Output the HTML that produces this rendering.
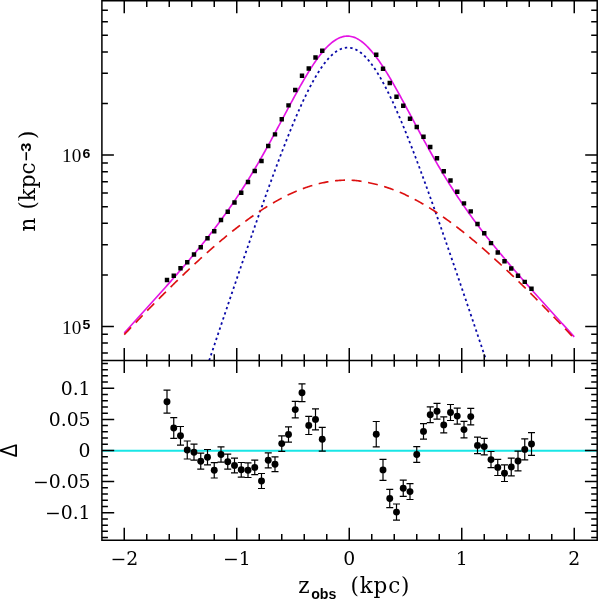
<!DOCTYPE html>
<html lang="en"><head><meta charset="utf-8"><title>n vs z_obs</title>
<style>html,body{margin:0;padding:0;background:#fff}body{width:600px;height:600px;overflow:hidden}svg{display:block}.ser{font-family:"DejaVu Serif","Liberation Serif",serif;fill:#000}.lser{font-family:"Liberation Serif","DejaVu Serif",serif;fill:#000}.dl{font-family:"Liberation Sans","DejaVu Sans",sans-serif;fill:#000}.san{font-family:"Liberation Sans","DejaVu Sans",sans-serif;font-weight:bold;fill:#000}</style></head><body>
<svg width="600" height="600" viewBox="0 0 600 600">
<rect width="600" height="600" fill="#fff"/>
<line x1="101.9" y1="450.7" x2="597.2" y2="450.7" stroke="#19e6e6" stroke-width="1.9"/>
<path d="M124.25,332.93 L125.38,331.69 L126.51,330.45 L127.63,329.21 L128.76,327.97 L129.89,326.73 L131.02,325.48 L132.14,324.24 L133.27,323.00 L134.40,321.76 L135.53,320.51 L136.66,319.27 L137.78,318.03 L138.91,316.78 L140.04,315.54 L141.17,314.29 L142.30,313.05 L143.42,311.80 L144.55,310.55 L145.68,309.31 L146.81,308.06 L147.93,306.81 L149.06,305.56 L150.19,304.31 L151.32,303.06 L152.45,301.80 L153.57,300.55 L154.70,299.30 L155.83,298.04 L156.96,296.78 L158.08,295.52 L159.21,294.27 L160.34,293.00 L161.47,291.74 L162.60,290.48 L163.72,289.21 L164.85,287.94 L165.98,286.68 L167.11,285.40 L168.23,284.13 L169.36,282.86 L170.49,281.58 L171.62,280.30 L172.75,279.02 L173.87,277.73 L175.00,276.45 L176.13,275.16 L177.26,273.87 L178.39,272.57 L179.51,271.27 L180.64,269.97 L181.77,268.67 L182.90,267.36 L184.02,266.05 L185.15,264.73 L186.28,263.41 L187.41,262.09 L188.54,260.76 L189.66,259.43 L190.79,258.09 L191.92,256.75 L193.05,255.41 L194.17,254.06 L195.30,252.70 L196.43,251.34 L197.56,249.98 L198.69,248.61 L199.81,247.23 L200.94,245.85 L202.07,244.46 L203.20,243.06 L204.33,241.66 L205.45,240.25 L206.58,238.83 L207.71,237.41 L208.84,235.98 L209.96,234.54 L211.09,233.09 L212.22,231.64 L213.35,230.18 L214.48,228.70 L215.60,227.23 L216.73,225.74 L217.86,224.24 L218.99,222.73 L220.11,221.21 L221.24,219.69 L222.37,218.15 L223.50,216.60 L224.63,215.05 L225.75,213.48 L226.88,211.90 L228.01,210.31 L229.14,208.71 L230.27,207.09 L231.39,205.47 L232.52,203.83 L233.65,202.18 L234.78,200.52 L235.90,198.85 L237.03,197.16 L238.16,195.46 L239.29,193.75 L240.42,192.03 L241.54,190.29 L242.67,188.54 L243.80,186.77 L244.93,185.00 L246.05,183.20 L247.18,181.40 L248.31,179.58 L249.44,177.75 L250.57,175.90 L251.69,174.05 L252.82,172.17 L253.95,170.29 L255.08,168.39 L256.20,166.48 L257.33,164.55 L258.46,162.61 L259.59,160.66 L260.72,158.70 L261.84,156.73 L262.97,154.74 L264.10,152.74 L265.23,150.73 L266.36,148.71 L267.48,146.68 L268.61,144.64 L269.74,142.59 L270.87,140.53 L271.99,138.46 L273.12,136.38 L274.25,134.30 L275.38,132.21 L276.51,130.11 L277.63,128.01 L278.76,125.90 L279.89,123.79 L281.02,121.68 L282.14,119.56 L283.27,117.45 L284.40,115.33 L285.53,113.21 L286.66,111.09 L287.78,108.98 L288.91,106.87 L290.04,104.76 L291.17,102.67 L292.30,100.57 L293.42,98.49 L294.55,96.41 L295.68,94.35 L296.81,92.30 L297.93,90.26 L299.06,88.23 L300.19,86.22 L301.32,84.23 L302.45,82.26 L303.57,80.31 L304.70,78.38 L305.83,76.47 L306.96,74.59 L308.08,72.74 L309.21,70.91 L310.34,69.11 L311.47,67.34 L312.60,65.61 L313.72,63.91 L314.85,62.25 L315.98,60.62 L317.11,59.03 L318.23,57.49 L319.36,55.98 L320.49,54.52 L321.62,53.11 L322.75,51.74 L323.87,50.42 L325.00,49.15 L326.13,47.93 L327.26,46.77 L328.39,45.66 L329.51,44.60 L330.64,43.60 L331.77,42.66 L332.90,41.78 L334.02,40.96 L335.15,40.20 L336.28,39.50 L337.41,38.86 L338.54,38.29 L339.66,37.79 L340.79,37.35 L341.92,36.97 L343.05,36.67 L344.17,36.43 L345.30,36.26 L346.43,36.15 L347.56,36.12 L348.69,36.16 L349.81,36.26 L350.94,36.44 L352.07,36.68 L353.20,37.00 L354.33,37.39 L355.45,37.85 L356.58,38.37 L357.71,38.97 L358.84,39.63 L359.96,40.36 L361.09,41.16 L362.22,42.02 L363.35,42.93 L364.48,43.91 L365.60,44.94 L366.73,46.02 L367.86,47.16 L368.99,48.35 L370.11,49.58 L371.24,50.86 L372.37,52.19 L373.50,53.56 L374.63,54.98 L375.75,56.44 L376.88,57.94 L378.01,59.49 L379.14,61.07 L380.27,62.69 L381.39,64.35 L382.52,66.04 L383.65,67.77 L384.78,69.53 L385.90,71.32 L387.03,73.14 L388.16,74.99 L389.29,76.86 L390.42,78.76 L391.54,80.69 L392.67,82.63 L393.80,84.60 L394.93,86.58 L396.05,88.59 L397.18,90.60 L398.31,92.64 L399.44,94.69 L400.57,96.75 L401.69,98.82 L402.82,100.90 L403.95,102.99 L405.08,105.08 L406.20,107.18 L407.33,109.29 L408.46,111.40 L409.59,113.51 L410.72,115.63 L411.84,117.74 L412.97,119.86 L414.10,121.97 L415.23,124.08 L416.36,126.19 L417.48,128.30 L418.61,130.40 L419.74,132.49 L420.87,134.58 L421.99,136.67 L423.12,138.74 L424.25,140.81 L425.38,142.87 L426.51,144.92 L427.63,146.96 L428.76,148.99 L429.89,151.01 L431.02,153.02 L432.14,155.02 L433.27,157.00 L434.40,158.98 L435.53,160.94 L436.66,162.89 L437.78,164.83 L438.91,166.75 L440.04,168.66 L441.17,170.56 L442.30,172.45 L443.42,174.32 L444.55,176.18 L445.68,178.02 L446.81,179.85 L447.93,181.67 L449.06,183.48 L450.19,185.27 L451.32,187.04 L452.45,188.81 L453.57,190.56 L454.70,192.30 L455.83,194.02 L456.96,195.73 L458.08,197.43 L459.21,199.12 L460.34,200.79 L461.47,202.45 L462.60,204.10 L463.72,205.73 L464.85,207.36 L465.98,208.97 L467.11,210.57 L468.23,212.16 L469.36,213.74 L470.49,215.31 L471.62,216.87 L472.75,218.41 L473.87,219.95 L475.00,221.47 L476.13,222.99 L477.26,224.50 L478.39,225.99 L479.51,227.48 L480.64,228.96 L481.77,230.43 L482.90,231.89 L484.02,233.35 L485.15,234.79 L486.28,236.23 L487.41,237.66 L488.54,239.08 L489.66,240.50 L490.79,241.90 L491.92,243.31 L493.05,244.70 L494.17,246.09 L495.30,247.47 L496.43,248.85 L497.56,250.22 L498.69,251.58 L499.81,252.94 L500.94,254.30 L502.07,255.65 L503.20,256.99 L504.33,258.33 L505.45,259.66 L506.58,260.99 L507.71,262.32 L508.84,263.64 L509.96,264.96 L511.09,266.27 L512.22,267.58 L513.35,268.89 L514.48,270.19 L515.60,271.49 L516.73,272.79 L517.86,274.09 L518.99,275.38 L520.11,276.66 L521.24,277.95 L522.37,279.23 L523.50,280.51 L524.63,281.79 L525.75,283.07 L526.88,284.34 L528.01,285.61 L529.14,286.88 L530.27,288.15 L531.39,289.42 L532.52,290.68 L533.65,291.95 L534.78,293.21 L535.90,294.47 L537.03,295.73 L538.16,296.98 L539.29,298.24 L540.42,299.49 L541.54,300.75 L542.67,302.00 L543.80,303.25 L544.93,304.50 L546.05,305.75 L547.18,307.00 L548.31,308.25 L549.44,309.50 L550.57,310.74 L551.69,311.99 L552.82,313.23 L553.95,314.48 L555.08,315.72 L556.20,316.97 L557.33,318.21 L558.46,319.45 L559.59,320.70 L560.72,321.94 L561.84,323.18 L562.97,324.42 L564.10,325.66 L565.23,326.90 L566.36,328.15 L567.48,329.39 L568.61,330.63 L569.74,331.87 L570.87,333.11 L571.99,334.35 L573.12,335.59 L574.25,336.83" fill="none" stroke="#e414e4" stroke-width="1.65"/>
<path d="M209.15,360.50 L209.85,358.43 L210.54,356.37 L211.24,354.30 L211.93,352.24 L212.63,350.17 L213.32,348.11 L214.01,346.05 L214.71,343.98 L215.40,341.92 L216.10,339.86 L216.79,337.80 L217.49,335.74 L218.18,333.68 L218.88,331.62 L219.57,329.56 L220.27,327.50 L220.96,325.45 L221.65,323.39 L222.35,321.34 L223.04,319.28 L223.74,317.23 L224.43,315.17 L225.13,313.12 L225.82,311.07 L226.52,309.02 L227.21,306.97 L227.90,304.92 L228.60,302.87 L229.29,300.82 L229.99,298.77 L230.68,296.73 L231.38,294.68 L232.07,292.64 L232.77,290.60 L233.46,288.56 L234.15,286.52 L234.85,284.48 L235.54,282.44 L236.24,280.40 L236.93,278.37 L237.63,276.33 L238.32,274.30 L239.02,272.27 L239.71,270.24 L240.40,268.21 L241.10,266.19 L241.79,264.16 L242.49,262.14 L243.18,260.11 L243.88,258.09 L244.57,256.07 L245.27,254.06 L245.96,252.04 L246.65,250.03 L247.35,248.02 L248.04,246.01 L248.74,244.00 L249.43,242.00 L250.13,239.99 L250.82,237.99 L251.52,235.99 L252.21,234.00 L252.91,232.00 L253.60,230.01 L254.29,228.02 L254.99,226.03 L255.68,224.05 L256.38,222.07 L257.07,220.09 L257.77,218.12 L258.46,216.14 L259.16,214.17 L259.85,212.21 L260.54,210.24 L261.24,208.28 L261.93,206.33 L262.63,204.37 L263.32,202.42 L264.02,200.48 L264.71,198.53 L265.41,196.60 L266.10,194.66 L266.79,192.73 L267.49,190.80 L268.18,188.88 L268.88,186.96 L269.57,185.05 L270.27,183.14 L270.96,181.24 L271.66,179.34 L272.35,177.44 L273.04,175.55 L273.74,173.67 L274.43,171.79 L275.13,169.92 L275.82,168.05 L276.52,166.19 L277.21,164.33 L277.91,162.48 L278.60,160.64 L279.29,158.80 L279.99,156.97 L280.68,155.15 L281.38,153.33 L282.07,151.52 L282.77,149.72 L283.46,147.92 L284.16,146.13 L284.85,144.35 L285.55,142.58 L286.24,140.81 L286.93,139.06 L287.63,137.31 L288.32,135.57 L289.02,133.84 L289.71,132.12 L290.41,130.41 L291.10,128.71 L291.80,127.02 L292.49,125.33 L293.18,123.66 L293.88,122.00 L294.57,120.35 L295.27,118.71 L295.96,117.08 L296.66,115.47 L297.35,113.86 L298.05,112.27 L298.74,110.69 L299.43,109.12 L300.13,107.56 L300.82,106.02 L301.52,104.49 L302.21,102.97 L302.91,101.47 L303.60,99.98 L304.30,98.51 L304.99,97.05 L305.68,95.61 L306.38,94.18 L307.07,92.76 L307.77,91.37 L308.46,89.99 L309.16,88.62 L309.85,87.27 L310.55,85.94 L311.24,84.63 L311.93,83.34 L312.63,82.06 L313.32,80.80 L314.02,79.56 L314.71,78.34 L315.41,77.13 L316.10,75.95 L316.80,74.79 L317.49,73.65 L318.19,72.52 L318.88,71.42 L319.57,70.34 L320.27,69.29 L320.96,68.25 L321.66,67.23 L322.35,66.24 L323.05,65.27 L323.74,64.33 L324.44,63.40 L325.13,62.50 L325.82,61.63 L326.52,60.78 L327.21,59.95 L327.91,59.15 L328.60,58.37 L329.30,57.62 L329.99,56.89 L330.69,56.19 L331.38,55.51 L332.07,54.87 L332.77,54.24 L333.46,53.65 L334.16,53.08 L334.85,52.54 L335.55,52.02 L336.24,51.54 L336.94,51.08 L337.63,50.65 L338.32,50.24 L339.02,49.87 L339.71,49.52 L340.41,49.20 L341.10,48.91 L341.80,48.65 L342.49,48.42 L343.19,48.22 L343.88,48.04 L344.57,47.90 L345.27,47.78 L345.96,47.69 L346.66,47.63 L347.35,47.60 L348.05,47.60 L348.74,47.63 L349.44,47.69 L350.13,47.78 L350.83,47.90 L351.52,48.04 L352.21,48.22 L352.91,48.42 L353.60,48.65 L354.30,48.91 L354.99,49.20 L355.69,49.52 L356.38,49.87 L357.08,50.24 L357.77,50.65 L358.46,51.08 L359.16,51.54 L359.85,52.02 L360.55,52.54 L361.24,53.08 L361.94,53.65 L362.63,54.24 L363.33,54.87 L364.02,55.51 L364.71,56.19 L365.41,56.89 L366.10,57.62 L366.80,58.37 L367.49,59.15 L368.19,59.95 L368.88,60.78 L369.58,61.63 L370.27,62.50 L370.96,63.40 L371.66,64.33 L372.35,65.27 L373.05,66.24 L373.74,67.23 L374.44,68.25 L375.13,69.29 L375.83,70.34 L376.52,71.42 L377.21,72.52 L377.91,73.65 L378.60,74.79 L379.30,75.95 L379.99,77.13 L380.69,78.34 L381.38,79.56 L382.08,80.80 L382.77,82.06 L383.47,83.34 L384.16,84.63 L384.85,85.94 L385.55,87.27 L386.24,88.62 L386.94,89.99 L387.63,91.37 L388.33,92.76 L389.02,94.18 L389.72,95.61 L390.41,97.05 L391.10,98.51 L391.80,99.98 L392.49,101.47 L393.19,102.97 L393.88,104.49 L394.58,106.02 L395.27,107.56 L395.97,109.12 L396.66,110.69 L397.35,112.27 L398.05,113.86 L398.74,115.47 L399.44,117.08 L400.13,118.71 L400.83,120.35 L401.52,122.00 L402.22,123.66 L402.91,125.33 L403.60,127.02 L404.30,128.71 L404.99,130.41 L405.69,132.12 L406.38,133.84 L407.08,135.57 L407.77,137.31 L408.47,139.06 L409.16,140.81 L409.85,142.58 L410.55,144.35 L411.24,146.13 L411.94,147.92 L412.63,149.72 L413.33,151.52 L414.02,153.33 L414.72,155.15 L415.41,156.97 L416.11,158.80 L416.80,160.64 L417.49,162.48 L418.19,164.33 L418.88,166.19 L419.58,168.05 L420.27,169.92 L420.97,171.79 L421.66,173.67 L422.36,175.55 L423.05,177.44 L423.74,179.34 L424.44,181.24 L425.13,183.14 L425.83,185.05 L426.52,186.96 L427.22,188.88 L427.91,190.80 L428.61,192.73 L429.30,194.66 L429.99,196.60 L430.69,198.53 L431.38,200.48 L432.08,202.42 L432.77,204.37 L433.47,206.33 L434.16,208.28 L434.86,210.24 L435.55,212.21 L436.24,214.17 L436.94,216.14 L437.63,218.12 L438.33,220.09 L439.02,222.07 L439.72,224.05 L440.41,226.03 L441.11,228.02 L441.80,230.01 L442.49,232.00 L443.19,234.00 L443.88,235.99 L444.58,237.99 L445.27,239.99 L445.97,242.00 L446.66,244.00 L447.36,246.01 L448.05,248.02 L448.75,250.03 L449.44,252.04 L450.13,254.06 L450.83,256.07 L451.52,258.09 L452.22,260.11 L452.91,262.14 L453.61,264.16 L454.30,266.19 L455.00,268.21 L455.69,270.24 L456.38,272.27 L457.08,274.30 L457.77,276.33 L458.47,278.37 L459.16,280.40 L459.86,282.44 L460.55,284.48 L461.25,286.52 L461.94,288.56 L462.63,290.60 L463.33,292.64 L464.02,294.68 L464.72,296.73 L465.41,298.77 L466.11,300.82 L466.80,302.87 L467.50,304.92 L468.19,306.97 L468.88,309.02 L469.58,311.07 L470.27,313.12 L470.97,315.17 L471.66,317.23 L472.36,319.28 L473.05,321.34 L473.75,323.39 L474.44,325.45 L475.13,327.50 L475.83,329.56 L476.52,331.62 L477.22,333.68 L477.91,335.74 L478.61,337.80 L479.30,339.86 L480.00,341.92 L480.69,343.98 L481.39,346.05 L482.08,348.11 L482.77,350.17 L483.47,352.24 L484.16,354.30 L484.86,356.37 L485.55,358.43 L486.25,360.50" fill="none" stroke="#0a0aa8" stroke-width="1.8" stroke-dasharray="2.4 3.0" stroke-dashoffset="0"/>
<path d="M124.25,334.63 L125.38,333.44 L126.51,332.25 L127.63,331.06 L128.76,329.87 L129.89,328.69 L131.02,327.50 L132.14,326.32 L133.27,325.14 L134.40,323.96 L135.53,322.78 L136.66,321.61 L137.78,320.43 L138.91,319.26 L140.04,318.09 L141.17,316.92 L142.30,315.75 L143.42,314.59 L144.55,313.42 L145.68,312.26 L146.81,311.10 L147.93,309.94 L149.06,308.78 L150.19,307.63 L151.32,306.48 L152.45,305.32 L153.57,304.18 L154.70,303.03 L155.83,301.88 L156.96,300.74 L158.08,299.60 L159.21,298.46 L160.34,297.33 L161.47,296.19 L162.60,295.06 L163.72,293.93 L164.85,292.81 L165.98,291.68 L167.11,290.56 L168.23,289.44 L169.36,288.32 L170.49,287.21 L171.62,286.10 L172.75,284.99 L173.87,283.88 L175.00,282.78 L176.13,281.68 L177.26,280.58 L178.39,279.48 L179.51,278.39 L180.64,277.30 L181.77,276.21 L182.90,275.13 L184.02,274.05 L185.15,272.97 L186.28,271.90 L187.41,270.82 L188.54,269.76 L189.66,268.69 L190.79,267.63 L191.92,266.57 L193.05,265.52 L194.17,264.47 L195.30,263.42 L196.43,262.37 L197.56,261.33 L198.69,260.30 L199.81,259.26 L200.94,258.23 L202.07,257.21 L203.20,256.18 L204.33,255.17 L205.45,254.15 L206.58,253.14 L207.71,252.14 L208.84,251.14 L209.96,250.14 L211.09,249.14 L212.22,248.16 L213.35,247.17 L214.48,246.19 L215.60,245.22 L216.73,244.24 L217.86,243.28 L218.99,242.32 L220.11,241.36 L221.24,240.41 L222.37,239.46 L223.50,238.52 L224.63,237.58 L225.75,236.65 L226.88,235.72 L228.01,234.80 L229.14,233.88 L230.27,232.97 L231.39,232.06 L232.52,231.16 L233.65,230.26 L234.78,229.37 L235.90,228.49 L237.03,227.61 L238.16,226.74 L239.29,225.87 L240.42,225.01 L241.54,224.16 L242.67,223.31 L243.80,222.46 L244.93,221.63 L246.05,220.80 L247.18,219.97 L248.31,219.15 L249.44,218.34 L250.57,217.54 L251.69,216.74 L252.82,215.95 L253.95,215.16 L255.08,214.39 L256.20,213.61 L257.33,212.85 L258.46,212.09 L259.59,211.34 L260.72,210.60 L261.84,209.86 L262.97,209.14 L264.10,208.41 L265.23,207.70 L266.36,207.00 L267.48,206.30 L268.61,205.61 L269.74,204.92 L270.87,204.25 L271.99,203.58 L273.12,202.92 L274.25,202.27 L275.38,201.63 L276.51,200.99 L277.63,200.37 L278.76,199.75 L279.89,199.14 L281.02,198.54 L282.14,197.94 L283.27,197.36 L284.40,196.78 L285.53,196.22 L286.66,195.66 L287.78,195.11 L288.91,194.57 L290.04,194.04 L291.17,193.51 L292.30,193.00 L293.42,192.50 L294.55,192.00 L295.68,191.52 L296.81,191.04 L297.93,190.57 L299.06,190.12 L300.19,189.67 L301.32,189.23 L302.45,188.80 L303.57,188.38 L304.70,187.97 L305.83,187.58 L306.96,187.19 L308.08,186.81 L309.21,186.44 L310.34,186.08 L311.47,185.73 L312.60,185.39 L313.72,185.06 L314.85,184.74 L315.98,184.43 L317.11,184.14 L318.23,183.85 L319.36,183.57 L320.49,183.30 L321.62,183.05 L322.75,182.80 L323.87,182.57 L325.00,182.34 L326.13,182.13 L327.26,181.92 L328.39,181.73 L329.51,181.55 L330.64,181.38 L331.77,181.22 L332.90,181.07 L334.02,180.93 L335.15,180.80 L336.28,180.68 L337.41,180.58 L338.54,180.48 L339.66,180.40 L340.79,180.33 L341.92,180.27 L343.05,180.22 L344.17,180.18 L345.30,180.16 L346.43,180.15 L347.56,180.15 L348.69,180.16 L349.81,180.19 L350.94,180.23 L352.07,180.28 L353.20,180.35 L354.33,180.44 L355.45,180.54 L356.58,180.65 L357.71,180.78 L358.84,180.93 L359.96,181.08 L361.09,181.26 L362.22,181.44 L363.35,181.63 L364.48,181.84 L365.60,182.05 L366.73,182.27 L367.86,182.49 L368.99,182.72 L370.11,182.96 L371.24,183.21 L372.37,183.46 L373.50,183.71 L374.63,183.98 L375.75,184.25 L376.88,184.53 L378.01,184.82 L379.14,185.12 L380.27,185.43 L381.39,185.75 L382.52,186.07 L383.65,186.41 L384.78,186.76 L385.90,187.11 L387.03,187.48 L388.16,187.85 L389.29,188.23 L390.42,188.63 L391.54,189.03 L392.67,189.45 L393.80,189.87 L394.93,190.30 L396.05,190.74 L397.18,191.19 L398.31,191.66 L399.44,192.13 L400.57,192.61 L401.69,193.10 L402.82,193.59 L403.95,194.10 L405.08,194.62 L406.20,195.14 L407.33,195.68 L408.46,196.22 L409.59,196.78 L410.72,197.34 L411.84,197.91 L412.97,198.49 L414.10,199.08 L415.23,199.67 L416.36,200.28 L417.48,200.89 L418.61,201.51 L419.74,202.14 L420.87,202.78 L421.99,203.43 L423.12,204.08 L424.25,204.74 L425.38,205.41 L426.51,206.09 L427.63,206.78 L428.76,207.47 L429.89,208.17 L431.02,208.88 L432.14,209.60 L433.27,210.32 L434.40,211.05 L435.53,211.79 L436.66,212.54 L437.78,213.29 L438.91,214.05 L440.04,214.82 L441.17,215.59 L442.30,216.37 L443.42,217.16 L444.55,217.95 L445.68,218.75 L446.81,219.56 L447.93,220.38 L449.06,221.20 L450.19,222.02 L451.32,222.86 L452.45,223.70 L453.57,224.54 L454.70,225.39 L455.83,226.25 L456.96,227.11 L458.08,227.98 L459.21,228.86 L460.34,229.74 L461.47,230.62 L462.60,231.52 L463.72,232.41 L464.85,233.32 L465.98,234.23 L467.11,235.14 L468.23,236.06 L469.36,236.98 L470.49,237.91 L471.62,238.85 L472.75,239.79 L473.87,240.73 L475.00,241.68 L476.13,242.64 L477.26,243.59 L478.39,244.56 L479.51,245.53 L480.64,246.50 L481.77,247.48 L482.90,248.46 L484.02,249.44 L485.15,250.44 L486.28,251.43 L487.41,252.43 L488.54,253.43 L489.66,254.44 L490.79,255.45 L491.92,256.47 L493.05,257.49 L494.17,258.51 L495.30,259.54 L496.43,260.57 L497.56,261.60 L498.69,262.64 L499.81,263.68 L500.94,264.73 L502.07,265.78 L503.20,266.83 L504.33,267.89 L505.45,268.95 L506.58,270.01 L507.71,271.08 L508.84,272.15 L509.96,273.22 L511.09,274.29 L512.22,275.37 L513.35,276.46 L514.48,277.54 L515.60,278.63 L516.73,279.72 L517.86,280.81 L518.99,281.91 L520.11,283.01 L521.24,284.11 L522.37,285.22 L523.50,286.32 L524.63,287.43 L525.75,288.55 L526.88,289.66 L528.01,290.78 L529.14,291.90 L530.27,293.02 L531.39,294.15 L532.52,295.28 L533.65,296.41 L534.78,297.54 L535.90,298.67 L537.03,299.81 L538.16,300.95 L539.29,302.09 L540.42,303.23 L541.54,304.38 L542.67,305.53 L543.80,306.68 L544.93,307.83 L546.05,308.98 L547.18,310.14 L548.31,311.30 L549.44,312.46 L550.57,313.62 L551.69,314.78 L552.82,315.94 L553.95,317.11 L555.08,318.28 L556.20,319.45 L557.33,320.62 L558.46,321.80 L559.59,322.97 L560.72,324.15 L561.84,325.33 L562.97,326.51 L564.10,327.69 L565.23,328.87 L566.36,330.05 L567.48,331.24 L568.61,332.43 L569.74,333.62 L570.87,334.81 L571.99,336.00 L573.12,337.19 L574.25,338.38" fill="none" stroke="#dc1010" stroke-width="1.65" stroke-dasharray="10 6.6"/>
<path d="M101.9,0.65 H597.2 V540.2 H101.9 Z M101.9,360.5 H597.2 M124.25,0.65 v12.5 M124.25,348.0 v25.0 M124.25,540.2 v-12.5 M146.75,0.65 v6.3 M146.75,354.2 v12.6 M146.75,540.2 v-6.3 M169.25,0.65 v6.3 M169.25,354.2 v12.6 M169.25,540.2 v-6.3 M191.75,0.65 v6.3 M191.75,354.2 v12.6 M191.75,540.2 v-6.3 M214.25,0.65 v6.3 M214.25,354.2 v12.6 M214.25,540.2 v-6.3 M236.75,0.65 v12.5 M236.75,348.0 v25.0 M236.75,540.2 v-12.5 M259.25,0.65 v6.3 M259.25,354.2 v12.6 M259.25,540.2 v-6.3 M281.75,0.65 v6.3 M281.75,354.2 v12.6 M281.75,540.2 v-6.3 M304.25,0.65 v6.3 M304.25,354.2 v12.6 M304.25,540.2 v-6.3 M326.75,0.65 v6.3 M326.75,354.2 v12.6 M326.75,540.2 v-6.3 M349.25,0.65 v12.5 M349.25,348.0 v25.0 M349.25,540.2 v-12.5 M371.75,0.65 v6.3 M371.75,354.2 v12.6 M371.75,540.2 v-6.3 M394.25,0.65 v6.3 M394.25,354.2 v12.6 M394.25,540.2 v-6.3 M416.75,0.65 v6.3 M416.75,354.2 v12.6 M416.75,540.2 v-6.3 M439.25,0.65 v6.3 M439.25,354.2 v12.6 M439.25,540.2 v-6.3 M461.75,0.65 v12.5 M461.75,348.0 v25.0 M461.75,540.2 v-12.5 M484.25,0.65 v6.3 M484.25,354.2 v12.6 M484.25,540.2 v-6.3 M506.75,0.65 v6.3 M506.75,354.2 v12.6 M506.75,540.2 v-6.3 M529.25,0.65 v6.3 M529.25,354.2 v12.6 M529.25,540.2 v-6.3 M551.75,0.65 v6.3 M551.75,354.2 v12.6 M551.75,540.2 v-6.3 M574.25,0.65 v12.5 M574.25,348.0 v25.0 M574.25,540.2 v-12.5 M101.9,353.05 h6 M597.2,353.05 h-6 M101.9,343.11 h6 M597.2,343.11 h-6 M101.9,334.34 h6 M597.2,334.34 h-6 M101.9,326.50 h12 M597.2,326.50 h-12 M101.9,274.90 h6 M597.2,274.90 h-6 M101.9,244.72 h6 M597.2,244.72 h-6 M101.9,223.31 h6 M597.2,223.31 h-6 M101.9,206.70 h6 M597.2,206.70 h-6 M101.9,193.12 h6 M597.2,193.12 h-6 M101.9,181.65 h6 M597.2,181.65 h-6 M101.9,171.71 h6 M597.2,171.71 h-6 M101.9,162.94 h6 M597.2,162.94 h-6 M101.9,155.10 h12 M597.2,155.10 h-12 M101.9,103.50 h6 M597.2,103.50 h-6 M101.9,73.32 h6 M597.2,73.32 h-6 M101.9,51.91 h6 M597.2,51.91 h-6 M101.9,35.30 h6 M597.2,35.30 h-6 M101.9,21.72 h6 M597.2,21.72 h-6 M101.9,10.25 h6 M597.2,10.25 h-6 M101.9,537.58 h6 M597.2,537.58 h-6 M101.9,531.36 h6 M597.2,531.36 h-6 M101.9,525.14 h6 M597.2,525.14 h-6 M101.9,518.92 h6 M597.2,518.92 h-6 M101.9,512.70 h12.3 M597.2,512.70 h-12.3 M101.9,506.48 h6 M597.2,506.48 h-6 M101.9,500.26 h6 M597.2,500.26 h-6 M101.9,494.04 h6 M597.2,494.04 h-6 M101.9,487.82 h6 M597.2,487.82 h-6 M101.9,481.60 h12.3 M597.2,481.60 h-12.3 M101.9,475.38 h6 M597.2,475.38 h-6 M101.9,469.16 h6 M597.2,469.16 h-6 M101.9,462.94 h6 M597.2,462.94 h-6 M101.9,456.72 h6 M597.2,456.72 h-6 M101.9,450.50 h12.3 M597.2,450.50 h-12.3 M101.9,444.28 h6 M597.2,444.28 h-6 M101.9,438.06 h6 M597.2,438.06 h-6 M101.9,431.84 h6 M597.2,431.84 h-6 M101.9,425.62 h6 M597.2,425.62 h-6 M101.9,419.40 h12.3 M597.2,419.40 h-12.3 M101.9,413.18 h6 M597.2,413.18 h-6 M101.9,406.96 h6 M597.2,406.96 h-6 M101.9,400.74 h6 M597.2,400.74 h-6 M101.9,394.52 h6 M597.2,394.52 h-6 M101.9,388.30 h12.3 M597.2,388.30 h-12.3 M101.9,382.08 h6 M597.2,382.08 h-6 M101.9,375.86 h6 M597.2,375.86 h-6 M101.9,369.64 h6 M597.2,369.64 h-6 M101.9,363.42 h6 M597.2,363.42 h-6" fill="none" stroke="#000" stroke-width="1.5"/>
<path d="M164.80,277.80h4.4v4.4h-4.4z M171.55,273.60h4.4v4.4h-4.4z M178.30,266.10h4.4v4.4h-4.4z M185.05,260.00h4.4v4.4h-4.4z M191.80,252.30h4.4v4.4h-4.4z M198.55,245.00h4.4v4.4h-4.4z M205.30,236.10h4.4v4.4h-4.4z M212.05,229.10h4.4v4.4h-4.4z M218.80,217.80h4.4v4.4h-4.4z M225.55,209.50h4.4v4.4h-4.4z M232.30,200.30h4.4v4.4h-4.4z M239.05,190.60h4.4v4.4h-4.4z M245.80,179.80h4.4v4.4h-4.4z M252.55,168.80h4.4v4.4h-4.4z M259.30,158.80h4.4v4.4h-4.4z M266.05,143.80h4.4v4.4h-4.4z M272.80,132.20h4.4v4.4h-4.4z M279.55,117.00h4.4v4.4h-4.4z M286.30,103.20h4.4v4.4h-4.4z M293.05,87.80h4.4v4.4h-4.4z M299.80,73.60h4.4v4.4h-4.4z M306.55,66.30h4.4v4.4h-4.4z M313.30,55.30h4.4v4.4h-4.4z M320.05,48.60h4.4v4.4h-4.4z M374.05,52.50h4.4v4.4h-4.4z M380.80,66.50h4.4v4.4h-4.4z M387.55,80.80h4.4v4.4h-4.4z M394.30,94.50h4.4v4.4h-4.4z M401.05,103.60h4.4v4.4h-4.4z M407.80,116.60h4.4v4.4h-4.4z M414.55,124.80h4.4v4.4h-4.4z M421.30,134.60h4.4v4.4h-4.4z M428.05,144.80h4.4v4.4h-4.4z M434.80,156.10h4.4v4.4h-4.4z M441.55,169.00h4.4v4.4h-4.4z M448.30,178.30h4.4v4.4h-4.4z M455.05,189.60h4.4v4.4h-4.4z M461.80,201.20h4.4v4.4h-4.4z M468.55,209.20h4.4v4.4h-4.4z M475.30,221.80h4.4v4.4h-4.4z M482.05,231.10h4.4v4.4h-4.4z M488.80,240.90h4.4v4.4h-4.4z M495.55,250.30h4.4v4.4h-4.4z M502.30,259.10h4.4v4.4h-4.4z M509.05,266.30h4.4v4.4h-4.4z M515.80,273.50h4.4v4.4h-4.4z M522.55,279.70h4.4v4.4h-4.4z M529.30,286.60h4.4v4.4h-4.4z" fill="#000"/>
<path d="M167.00,390.20V413.20M163.50,390.20h7M163.50,413.20h7 M173.75,417.60V438.40M170.25,417.60h7M170.25,438.40h7 M180.50,426.50V445.10M177.00,426.50h7M177.00,445.10h7 M187.25,441.00V459.00M183.75,441.00h7M183.75,459.00h7 M194.00,444.20V460.20M190.50,444.20h7M190.50,460.20h7 M200.75,453.20V469.20M197.25,453.20h7M197.25,469.20h7 M207.50,449.50V464.90M204.00,449.50h7M204.00,464.90h7 M214.25,462.60V478.00M210.75,462.60h7M210.75,478.00h7 M221.00,446.80V462.20M217.50,446.80h7M217.50,462.20h7 M227.75,454.20V469.20M224.25,454.20h7M224.25,469.20h7 M234.50,458.20V472.80M231.00,458.20h7M231.00,472.80h7 M241.25,462.50V477.10M237.75,462.50h7M237.75,477.10h7 M248.00,462.90V477.50M244.50,462.90h7M244.50,477.50h7 M254.75,460.10V474.70M251.25,460.10h7M251.25,474.70h7 M261.50,473.50V488.50M258.00,473.50h7M258.00,488.50h7 M268.25,452.80V467.80M264.75,452.80h7M264.75,467.80h7 M275.00,456.80V471.60M271.50,456.80h7M271.50,471.60h7 M281.75,435.80V451.40M278.25,435.80h7M278.25,451.40h7 M288.50,426.90V442.10M285.00,426.90h7M285.00,442.10h7 M295.25,401.30V417.90M291.75,401.30h7M291.75,417.90h7 M302.00,383.80V401.60M298.50,383.80h7M298.50,401.60h7 M308.75,416.30V434.50M305.25,416.30h7M305.25,434.50h7 M315.50,408.90V429.90M312.00,408.90h7M312.00,429.90h7 M322.25,427.40V451.20M318.75,427.40h7M318.75,451.20h7 M376.25,421.50V446.90M372.75,421.50h7M372.75,446.90h7 M383.00,459.40V480.40M379.50,459.40h7M379.50,480.40h7 M389.75,489.40V507.60M386.25,489.40h7M386.25,507.60h7 M396.50,504.00V520.20M393.00,504.00h7M393.00,520.20h7 M403.25,480.20V496.40M399.75,480.20h7M399.75,496.40h7 M410.00,483.70V499.50M406.50,483.70h7M406.50,499.50h7 M416.75,446.60V462.40M413.25,446.60h7M413.25,462.40h7 M423.50,423.60V439.20M420.00,423.60h7M420.00,439.20h7 M430.25,406.80V422.60M426.75,406.80h7M426.75,422.60h7 M437.00,403.40V419.20M433.50,403.40h7M433.50,419.20h7 M443.75,416.90V432.90M440.25,416.90h7M440.25,432.90h7 M450.50,404.50V420.50M447.00,404.50h7M447.00,420.50h7 M457.25,408.10V424.10M453.75,408.10h7M453.75,424.10h7 M464.00,421.30V437.90M460.50,421.30h7M460.50,437.90h7 M470.75,408.30V424.90M467.25,408.30h7M467.25,424.90h7 M477.50,437.10V453.70M474.00,437.10h7M474.00,453.70h7 M484.25,438.30V454.90M480.75,438.30h7M480.75,454.90h7 M491.00,451.50V467.70M487.50,451.50h7M487.50,467.70h7 M497.75,459.30V475.50M494.25,459.30h7M494.25,475.50h7 M504.50,464.90V481.50M501.00,464.90h7M501.00,481.50h7 M511.25,458.20V475.80M507.75,458.20h7M507.75,475.80h7 M518.00,451.20V470.80M514.50,451.20h7M514.50,470.80h7 M524.75,438.90V459.90M521.25,438.90h7M521.25,459.90h7 M531.50,432.60V455.40M528.00,432.60h7M528.00,455.40h7" fill="none" stroke="#000" stroke-width="1.2"/>
<g fill="#000"><circle cx="167.00" cy="401.70" r="3.45"/><circle cx="173.75" cy="428.00" r="3.45"/><circle cx="180.50" cy="435.80" r="3.45"/><circle cx="187.25" cy="450.00" r="3.45"/><circle cx="194.00" cy="452.20" r="3.45"/><circle cx="200.75" cy="461.20" r="3.45"/><circle cx="207.50" cy="457.20" r="3.45"/><circle cx="214.25" cy="470.30" r="3.45"/><circle cx="221.00" cy="454.50" r="3.45"/><circle cx="227.75" cy="461.70" r="3.45"/><circle cx="234.50" cy="465.50" r="3.45"/><circle cx="241.25" cy="469.80" r="3.45"/><circle cx="248.00" cy="470.20" r="3.45"/><circle cx="254.75" cy="467.40" r="3.45"/><circle cx="261.50" cy="481.00" r="3.45"/><circle cx="268.25" cy="460.30" r="3.45"/><circle cx="275.00" cy="464.20" r="3.45"/><circle cx="281.75" cy="443.60" r="3.45"/><circle cx="288.50" cy="434.50" r="3.45"/><circle cx="295.25" cy="409.60" r="3.45"/><circle cx="302.00" cy="392.70" r="3.45"/><circle cx="308.75" cy="425.40" r="3.45"/><circle cx="315.50" cy="419.40" r="3.45"/><circle cx="322.25" cy="439.30" r="3.45"/><circle cx="376.25" cy="434.20" r="3.45"/><circle cx="383.00" cy="469.90" r="3.45"/><circle cx="389.75" cy="498.50" r="3.45"/><circle cx="396.50" cy="512.10" r="3.45"/><circle cx="403.25" cy="488.30" r="3.45"/><circle cx="410.00" cy="491.60" r="3.45"/><circle cx="416.75" cy="454.50" r="3.45"/><circle cx="423.50" cy="431.40" r="3.45"/><circle cx="430.25" cy="414.70" r="3.45"/><circle cx="437.00" cy="411.30" r="3.45"/><circle cx="443.75" cy="424.90" r="3.45"/><circle cx="450.50" cy="412.50" r="3.45"/><circle cx="457.25" cy="416.10" r="3.45"/><circle cx="464.00" cy="429.60" r="3.45"/><circle cx="470.75" cy="416.60" r="3.45"/><circle cx="477.50" cy="445.40" r="3.45"/><circle cx="484.25" cy="446.60" r="3.45"/><circle cx="491.00" cy="459.60" r="3.45"/><circle cx="497.75" cy="467.40" r="3.45"/><circle cx="504.50" cy="473.20" r="3.45"/><circle cx="511.25" cy="467.00" r="3.45"/><circle cx="518.00" cy="461.00" r="3.45"/><circle cx="524.75" cy="449.40" r="3.45"/><circle cx="531.50" cy="444.00" r="3.45"/></g>
<text class="ser" transform="translate(90.60,394.80) scale(1.07,1)" font-size="17.6" text-anchor="end" >0.1</text>
<text class="ser" transform="translate(90.60,425.90) scale(1.07,1)" font-size="17.6" text-anchor="end" >0.05</text>
<text class="ser" transform="translate(90.60,457.00) scale(1.07,1)" font-size="17.6" text-anchor="end" >0</text>
<text class="ser" transform="translate(90.60,488.10) scale(1.07,1)" font-size="17.6" text-anchor="end" >−0.05</text>
<text class="ser" transform="translate(90.60,519.20) scale(1.07,1)" font-size="17.6" text-anchor="end" >−0.1</text>
<text class="ser" transform="translate(124.25,564.50) scale(1.07,1)" font-size="17.6" text-anchor="middle" >−2</text>
<text class="ser" transform="translate(236.75,564.50) scale(1.07,1)" font-size="17.6" text-anchor="middle" >−1</text>
<text class="ser" transform="translate(349.25,564.50) scale(1.07,1)" font-size="17.6" text-anchor="middle" >0</text>
<text class="ser" transform="translate(461.75,564.50) scale(1.07,1)" font-size="17.6" text-anchor="middle" >1</text>
<text class="ser" transform="translate(574.25,564.50) scale(1.07,1)" font-size="17.6" text-anchor="middle" >2</text>
<text class="lser" transform="translate(81.30,162.10) scale(1.0,1)" font-size="19.2" text-anchor="end" >10</text>
<text class="san" transform="translate(82.60,157.60) scale(1.12,1)" font-size="12.6" text-anchor="start" >6</text>
<text class="lser" transform="translate(81.30,333.50) scale(1.0,1)" font-size="19.2" text-anchor="end" >10</text>
<text class="san" transform="translate(82.60,329.00) scale(1.12,1)" font-size="12.6" text-anchor="start" >5</text>
<text class="ser" transform="translate(298.20,592.50) scale(1.0,1)" font-size="21.5" text-anchor="start" >z</text>
<text class="san" transform="translate(311.20,598.80) scale(1.0,1)" font-size="14.2" text-anchor="start" >obs</text>
<text class="ser" transform="translate(350.50,592.50) scale(1.0,1)" font-size="21.5" text-anchor="start" textLength="59" lengthAdjust="spacing">(kpc)</text>
<g transform="translate(35.3,231.5) rotate(-90)">
<text class="ser" transform="translate(0.00,0.00) scale(1.0,1)" font-size="21.5" text-anchor="start" >n</text>
<text class="ser" transform="translate(22.00,0.00) scale(1.0,1)" font-size="21.5" text-anchor="start" textLength="47" lengthAdjust="spacing">(kpc</text>
<text class="san" transform="translate(70.20,-4.80) scale(1.15,1)" font-size="14.2" text-anchor="start" >−3</text>
<text class="ser" transform="translate(92.60,0.00) scale(1.0,1)" font-size="21.5" text-anchor="start" >)</text>
</g>
<g transform="translate(16.6,450.5) rotate(-90)">
<text class="dl" transform="translate(0.00,0.00) scale(0.86,1)" font-size="23.5" text-anchor="middle" >Δ</text>
</g>
</svg></body></html>
